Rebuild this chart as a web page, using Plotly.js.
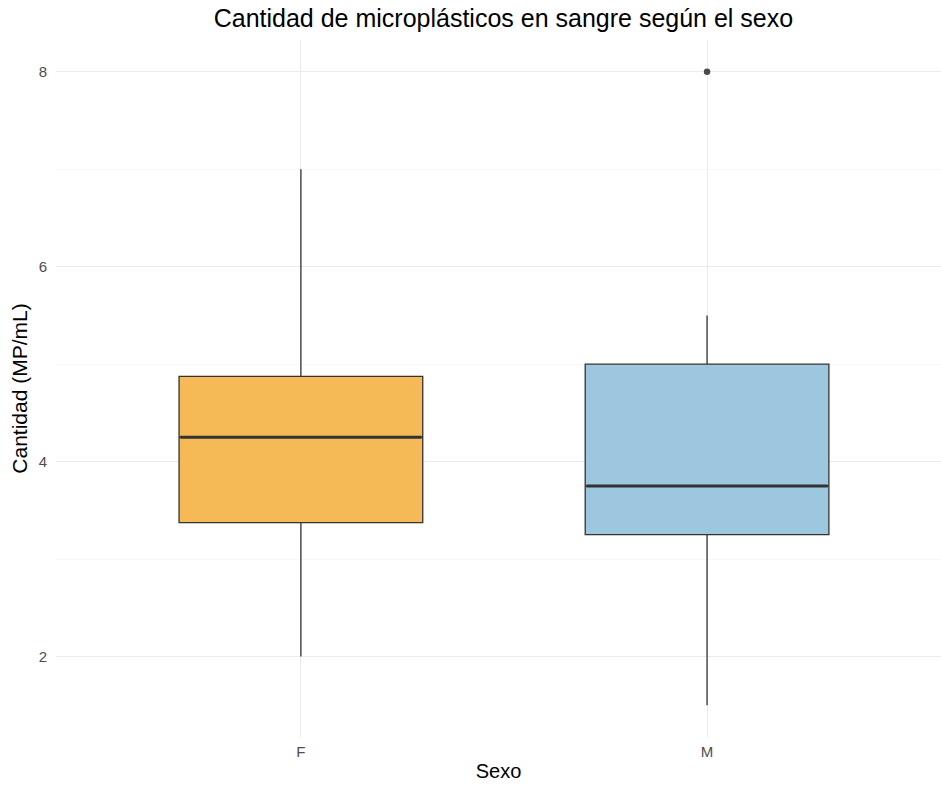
<!DOCTYPE html>
<html>
<head>
<meta charset="utf-8">
<script src="https://cdn.plot.ly/plotly-3.0.1.min.js"></script>
<style>html,body{margin:0;padding:0;background:#fff;}#chart{width:941px;height:786px;}</style>
</head>
<body>
<div id="chart"></div>
<script>
const categories = ["F", "M"];
const q1Values = [3.375, 3.25];
const medianValues = [4.25, 3.75];
const q3Values = [4.875, 5.0];
const lowerWhisker = [2.0, 1.5];
const upperWhisker = [7.0, 5.5];
const outlierCategory = ["M"];
const outlierValues = [8.0];
const fillColors = ["#F5BA56", "#9DC7DF"];

const boxWidth = 0.6;
const xpos = categories.map((c, i) => i);
const traces = [];
categories.forEach((c, i) => {
  traces.push({
    type: "box",
    x: [xpos[i]],
    q1: [q1Values[i]],
    median: [medianValues[i]],
    q3: [q3Values[i]],
    lowerfence: [lowerWhisker[i]],
    upperfence: [upperWhisker[i]],
    width: boxWidth,
    whiskerwidth: 0,
    fillcolor: fillColors[i],
    line: {color: "#333333", width: 1.3},
    boxpoints: false,
    hoverinfo: "skip",
    showlegend: false
  });
  traces.push({
    type: "scatter",
    mode: "lines",
    x: [xpos[i] - boxWidth / 2 + 0.003, xpos[i] + boxWidth / 2 - 0.003],
    y: [medianValues[i], medianValues[i]],
    line: {color: "#333333", width: 3},
    hoverinfo: "skip",
    showlegend: false
  });
});
traces.push({
  type: "scatter",
  mode: "markers",
  x: outlierCategory.map(c => categories.indexOf(c)),
  y: outlierValues,
  marker: {color: "#4a4a4a", size: 6.5},
  hoverinfo: "skip",
  showlegend: false
});

const layout = {
  width: 941,
  height: 786,
  margin: {l: 55.5, r: 0, t: 40, b: 49},
  paper_bgcolor: "#ffffff",
  plot_bgcolor: "#ffffff",
  font: {family: "Liberation Sans, Arial, sans-serif", color: "#000000"},
  title: {
    text: "Cantidad de microplásticos en sangre según el sexo",
    font: {size: 25, color: "#000000"},
    x: 0.535, xanchor: "center", y: 0.977, yanchor: "middle"
  },
  xaxis: {
    range: [-0.603, 1.576],
    tickvals: xpos,
    ticktext: categories,
    showgrid: true,
    gridcolor: "#EBEBEB",
    gridwidth: 1.1,
    zeroline: false,
    showline: false,
    ticks: "",
    tickfont: {size: 15, color: "#4D4D4D"},
    ticklabelstandoff: 4,
    title: {text: "Sexo", font: {size: 20, color: "#000000"}, standoff: 4}
  },
  yaxis: {
    range: [1.175, 8.325],
    tick0: 0,
    dtick: 2,
    showgrid: true,
    gridcolor: "#EBEBEB",
    gridwidth: 1.1,
    minor: {dtick: 1, tick0: 0, showgrid: true, gridcolor: "#F3F3F3", gridwidth: 0.6},
    zeroline: false,
    showline: false,
    ticks: "",
    tickfont: {size: 15, color: "#4D4D4D"},
    ticklabelstandoff: 8,
    title: {text: "Cantidad (MP/mL)", font: {size: 21, color: "#000000"}, standoff: 5}
  }
};

Plotly.newPlot("chart", traces, layout, {displayModeBar: false, staticPlot: true});
</script>
</body>
</html>
